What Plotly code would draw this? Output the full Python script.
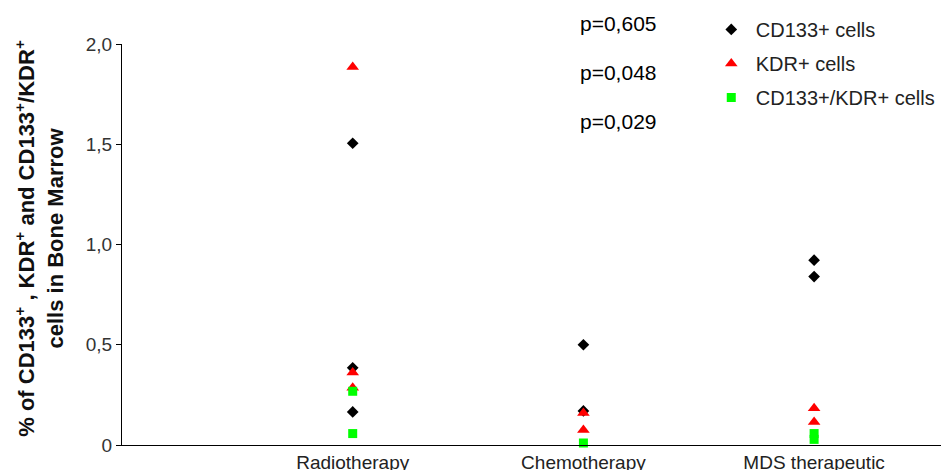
import plotly.graph_objects as go

# Treatment groups on the x axis
groups = ["Radiotherapy", "Chemotherapy", "MDS therapeutic"]

# % of positive cells in bone marrow, one point per patient
cd133_group = ["Radiotherapy", "Radiotherapy", "Radiotherapy",
               "Chemotherapy", "Chemotherapy",
               "MDS therapeutic", "MDS therapeutic"]
cd133_pct = [1.505, 0.385, 0.165, 0.50, 0.17, 0.922, 0.84]

kdr_group = ["Radiotherapy", "Radiotherapy", "Radiotherapy",
             "Chemotherapy", "Chemotherapy",
             "MDS therapeutic", "MDS therapeutic"]
kdr_pct = [1.885, 0.362, 0.285, 0.16, 0.075, 0.183, 0.115]

dual_group = ["Radiotherapy", "Radiotherapy",
              "Chemotherapy",
              "MDS therapeutic", "MDS therapeutic"]
dual_pct = [0.268, 0.057, 0.01, 0.057, 0.028]

# p-values printed beside the legend
p_values = ["p=0,605", "p=0,048", "p=0,029"]

# y-axis ticks with comma decimals
y_ticks = [0, 0.5, 1.0, 1.5, 2.0]
y_tick_text = ["0", "0,5", "1,0", "1,5", "2,0"]

FONT = "Liberation Sans, Arial, sans-serif"

fig = go.Figure()
fig.add_trace(go.Scatter(
    x=cd133_group, y=cd133_pct, mode="markers", name="CD133+ cells",
    legendgroup="a",
    marker=dict(symbol="diamond", size=9, color="black"),
    cliponaxis=False,
))
fig.add_trace(go.Scatter(
    x=kdr_group, y=kdr_pct, mode="markers", name="KDR+ cells",
    legendgroup="b",
    marker=dict(symbol="triangle-up", size=11, color="#ff0000"),
    cliponaxis=False,
))
fig.add_trace(go.Scatter(
    x=dual_group, y=dual_pct, mode="markers", name="CD133+/KDR+ cells",
    legendgroup="c",
    marker=dict(symbol="square", size=9, color="#00ff00"),
    cliponaxis=False,
))

annotations = []
for i, txt in enumerate(p_values):
    annotations.append(dict(
        text=txt, xref="paper", yref="paper",
        x=0.557, y=1.05 - i * 0.1222,
        xanchor="left", yanchor="middle", showarrow=False,
        font=dict(family=FONT, size=21, color="black"),
    ))

annotations.append(dict(
    text=("<b>% of CD133<sup>+</sup> , KDR<sup>+</sup> and "
          "CD133<sup>+</sup>/KDR<sup>+</sup><br>cells in Bone Marrow</b>"),
    xref="paper", yref="paper", x=-0.101, y=0.515,
    xanchor="center", yanchor="middle", textangle=-90, showarrow=False,
    font=dict(family=FONT, size=22, color="#111"),
))

fig.update_layout(
    width=941, height=470,
    margin=dict(l=122, r=0, t=44, b=25),
    paper_bgcolor="white", plot_bgcolor="white",
    font=dict(family=FONT, size=19, color="#222"),
    showlegend=True,
    legend=dict(
        x=0.714, y=1.085, xanchor="left", yanchor="top",
        bgcolor="rgba(0,0,0,0)", traceorder="grouped", tracegroupgap=5,
        font=dict(family=FONT, size=20, color="#222"),
        itemwidth=39,
    ),
    annotations=annotations,
)

fig.update_xaxes(
    type="category", categoryorder="array", categoryarray=groups,
    range=[-1, 2.55], showline=True, linecolor="black", linewidth=1,
    showgrid=False, zeroline=False, ticks="", automargin=False,
    tickfont=dict(family=FONT, size=19, color="#222"),
)
fig.update_yaxes(
    range=[0, 2.0], tickvals=y_ticks, ticktext=y_tick_text,
    showline=True, linecolor="black", linewidth=1,
    ticks="outside", ticklen=5, tickcolor="black",
    showgrid=False, zeroline=False, automargin=False,
    tickfont=dict(family=FONT, size=19, color="#333"),
)

fig.write_html("out.html")
